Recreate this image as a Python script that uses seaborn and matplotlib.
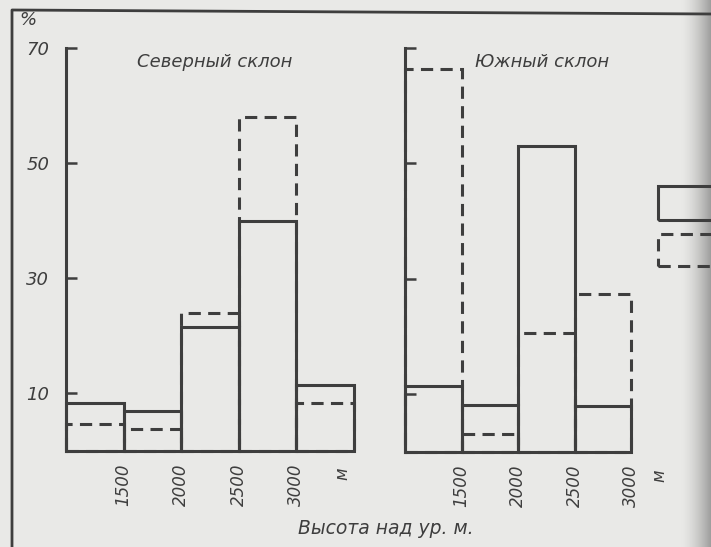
import numpy as np
import pandas as pd
import seaborn as sns
import matplotlib.pyplot as plt
from matplotlib.patches import Rectangle
from matplotlib.lines import Line2D

# values (percent of area by altitude belt)
north_zones = ["<1500", "1500-2000", "2000-2500", "2500-3000", ">3000"]
north_solid = [8.3, 6.9, 21.5, 40.0, 11.4]
north_dashed = [4.6, 3.7, 24.0, 58.0, 8.3]
south_zones = ["<1500", "1500-2000", "2000-2500", "2500-3000"]
south_solid = [11.5, 8.2, 53.0, 8.0]
south_dashed = [66.3, 3.1, 20.7, 27.3]
bound_labels = ["1500", "2000", "2500", "3000"]
yticks = [10, 30, 50, 70]

bg = "#e9e9e7"
ink = "#3e3e3e"

sns.set_style("white", rc={"axes.facecolor": "none", "figure.facecolor": bg})
plt.rcParams["font.family"] = ["DejaVu Sans"]
plt.rcParams["font.style"] = "italic"

fig = plt.figure(figsize=(7.11, 5.47), dpi=100)
W, H = 711, 547

def px_axes(x0, x1, ytop, ybot):
    return fig.add_axes([x0 / W, 1 - ybot / H, (x1 - x0) / W, (ybot - ytop) / H])

ax1 = px_axes(66, 354, 48, 450.5)
ax2 = px_axes(405, 631, 48, 452)

dash = (0, (4, 2.4))

def draw(ax, zones, solid, dashed, n):
    df_s = pd.DataFrame({"zone": zones, "share": solid})
    df_d = pd.DataFrame({"zone": zones, "share": dashed})
    sns.barplot(data=df_s, x="zone", y="share", ax=ax, width=1, fill=False,
                color=ink, linewidth=2.2, errorbar=None)
    sns.barplot(data=df_d, x="zone", y="share", ax=ax, width=1, fill=False,
                color=ink, linewidth=2.2, linestyle=dash, errorbar=None)
    for p in ax.patches:
        p.set_clip_on(False)
        p.set_edgecolor(ink)
    ax.set_xlim(-0.5, n - 0.5)
    ax.set_ylim(0, 70)
    ax.set_xlabel("")
    ax.set_ylabel("")
    for s in ["top", "right", "bottom"]:
        ax.spines[s].set_visible(False)
    ax.spines["left"].set_color(ink)
    ax.spines["left"].set_linewidth(2.2)
    ax.set_yticks(yticks)
    ax.tick_params(axis="y", left=True, direction="in", length=8, width=1.8, color=ink,
                   labelsize=13, labelcolor=ink, pad=12)
    ax.set_xticks([i + 0.5 for i in range(len(bound_labels))])
    ax.set_xticklabels(bound_labels, rotation=90, fontsize=12, color=ink)
    ax.tick_params(axis="x", length=0, pad=9)

draw(ax1, north_zones, north_solid, north_dashed, 5)
draw(ax2, south_zones, south_solid, south_dashed, 4)
ax2.set_yticklabels([])

# units after the last boundary
ax1.text(4.3, -3.0, "м", rotation=90, ha="center", va="top", fontsize=12, color=ink, clip_on=False)
ax2.text(4.0, -3.0, "м", rotation=90, ha="center", va="top", fontsize=12, color=ink, clip_on=False)

ax1.text(0.73, 67.6, "Северный склон", ha="left", va="center", fontsize=13, color=ink)
ax2.text(0.74, 67.6, "Южный склон", ha="left", va="center", fontsize=13, color=ink)

fig.text(28 / W, 1 - 20 / H, "%", ha="center", va="center", fontsize=13, color=ink)
fig.text(386 / W, 1 - 528 / H, "Высота над ур. м.", ha="center", va="center",
         fontsize=13.5, color=ink)

# page frame of the scan
fig.add_artist(Line2D([12 / W, 12 / W, 1.0], [0.0, 1 - 10 / H, 1 - 14 / H],
                      transform=fig.transFigure, color=ink, lw=2.0))

# legend boxes, cut by the page edge
fig.add_artist(Rectangle((658 / W, 1 - 220 / H), 70 / W, 34 / H, transform=fig.transFigure,
                         fill=False, edgecolor=ink, lw=2.2, clip_on=False))
fig.add_artist(Rectangle((658 / W, 1 - 266 / H), 70 / W, 32 / H, transform=fig.transFigure,
                         fill=False, edgecolor=ink, lw=2.2, linestyle=dash, clip_on=False))

# dark shading near the binding on the right
shade = fig.add_axes([680 / W, 0, 31 / W, 1])
grad = np.zeros((1, 60, 4))
grad[..., :3] = 0.45
grad[..., 3] = np.linspace(0, 0.75, 60) ** 1.6
shade.imshow(grad, aspect="auto", extent=[0, 1, 0, 1])
shade.set_axis_off()

fig.savefig("out.png", dpi=100, facecolor=bg)
